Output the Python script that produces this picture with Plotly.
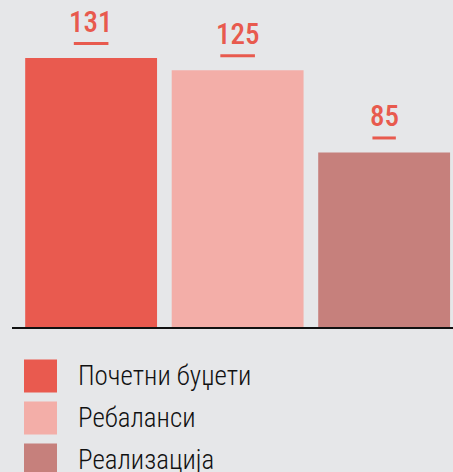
import plotly.graph_objects as go

categories = ["Почетни буџети", "Ребаланси", "Реализација"]
values = [131, 125, 85]
colors = ["#E95A4F", "#F3AEA8", "#C6807C"]
label_color = "#E85A4E"
bg = "#E6E7E9"
FONT = "Roboto Condensed, DejaVu Sans Condensed, sans-serif"

W, H = 453, 472
fig = go.Figure()
xs = list(range(len(categories)))
fig.add_trace(go.Bar(x=xs, y=values, marker=dict(color=colors, line=dict(width=0)),
                     width=0.9, showlegend=False, hoverinfo="skip"))

# value labels + underline
for i, v in zip(xs, values):
    txt = str(v)
    fig.add_annotation(x=i, y=v, xref="x", yref="y", text=txt, showarrow=False,
                       yanchor="bottom", yshift=17,
                       font=dict(family=FONT, size=29, color=label_color, weight=500))
    half = 5.6 * len(txt) + 0.5
    fig.add_shape(type="rect", xref="x", yref="y", xsizemode="pixel", ysizemode="pixel",
                  xanchor=i, yanchor=v, x0=-half, x1=half, y0=13, y1=16,
                  fillcolor=label_color, line=dict(width=0))

# legend (manual, large swatches)
for k, (name, c) in enumerate(zip(categories, colors)):
    cy = 1 - (376 + 42 * k) / H
    fig.add_shape(type="rect", xref="paper", yref="paper",
                  x0=24 / W, x1=57 / W, y0=cy - 16.5 / H, y1=cy + 16.5 / H,
                  fillcolor=c, line=dict(width=0))
    fig.add_annotation(x=76 / W, y=cy, xref="paper", yref="paper", text=name,
                       showarrow=False, xanchor="left", yanchor="middle",
                       font=dict(family=FONT, size=27, color="#111111", weight=300))

y0px = 327
ppu = 269 / 131
fig.update_layout(
    width=W, height=H, margin=dict(l=0, r=0, t=0, b=0),
    paper_bgcolor=bg, plot_bgcolor=bg,
    xaxis=dict(range=[-0.54, 2.47], domain=[12 / W, 1], showgrid=False, zeroline=False,
               showticklabels=False, ticks="", showline=True, linecolor="#111111", linewidth=2),
    yaxis=dict(range=[0, y0px / ppu], domain=[1 - y0px / H, 1], showgrid=False,
               zeroline=False, showticklabels=False, ticks="", showline=False),
    bargap=0.1,
)
fig.write_html("out.html")
